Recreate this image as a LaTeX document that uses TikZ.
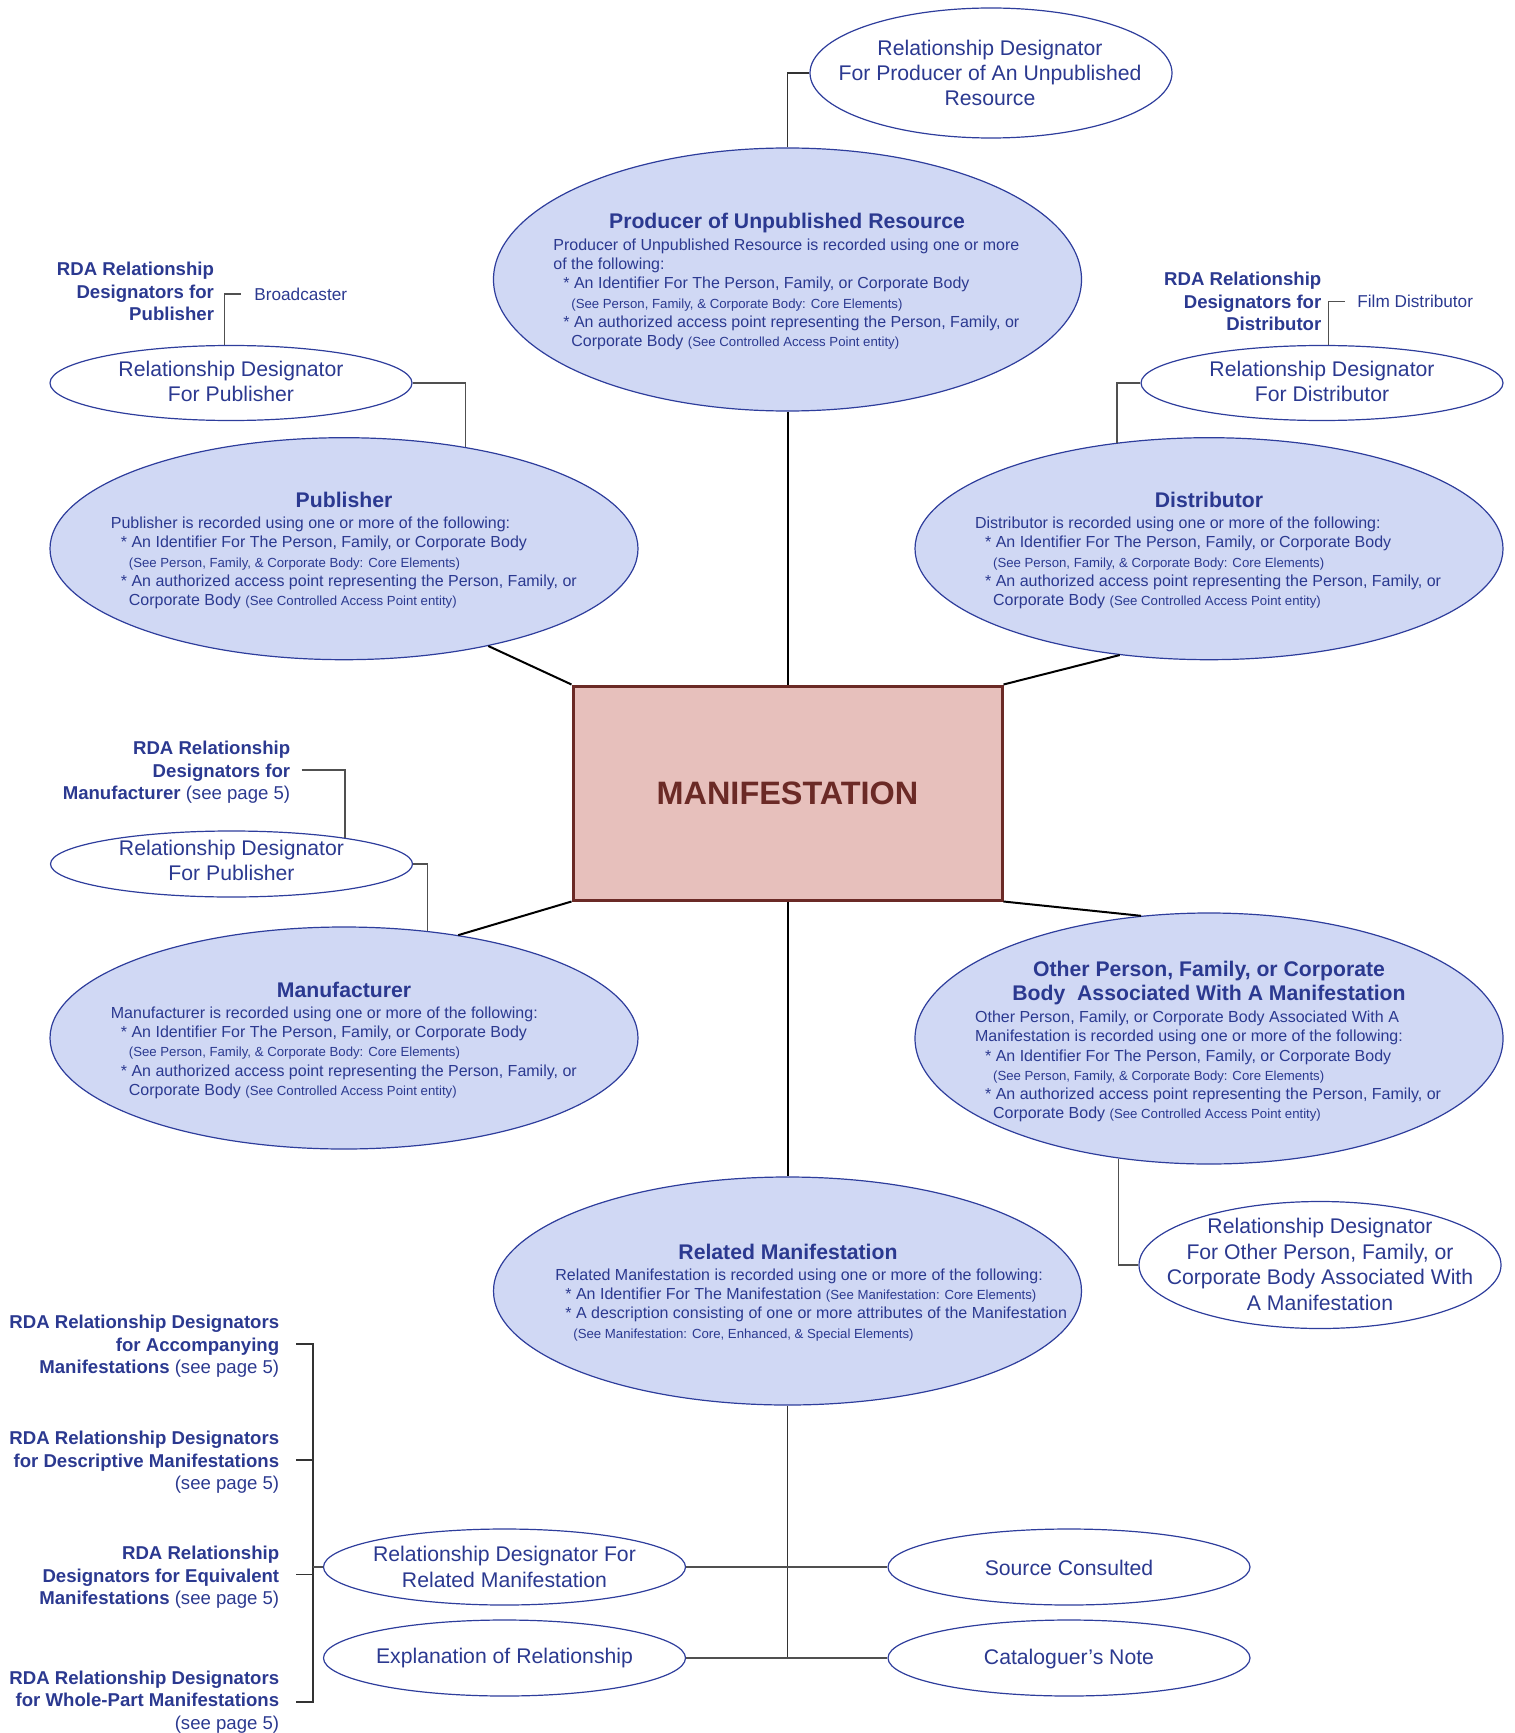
\documentclass[tikz,border=0pt]{standalone}
\usepackage{fontspec}
\setmainfont{Liberation Sans}
\usetikzlibrary{shapes.geometric,calc}
\definecolor{txtblue}{HTML}{2B3990}
\definecolor{edgeblue}{HTML}{2E3D9C}
\definecolor{ellfill}{HTML}{D0D8F4}
\definecolor{manfill}{HTML}{E7C0BC}
\definecolor{mandark}{HTML}{6B2A26}
\definecolor{conngray}{HTML}{505050}
\newcommand{\fsz}[2]{\fontsize{#1}{#2}\selectfont}
\newcommand{\smtxt}[1]{{\fontsize{6.6}{9.6}\selectfont #1}}
\newcommand{\indA}{\hspace*{5pt}}
\newcommand{\indB}{\hspace*{9pt}}
\begin{document}
\begin{tikzpicture}[x=0.5pt,y=-0.5pt,
  bigell/.style={ellipse, draw=edgeblue, fill=ellfill, line width=0.6pt, inner sep=0pt},
  rdell/.style={ellipse, draw=edgeblue, fill=white, line width=0.6pt, inner sep=0pt},
  rdtxt/.style={text=txtblue, font=\fsz{10.6}{12.7}, inner sep=0pt, align=center},
  ttl/.style={text=txtblue, font=\bfseries\fsz{10.6}{12.2}, inner sep=0pt, align=center},
  body/.style={text=txtblue, font=\fsz{8}{9.6}, inner sep=0pt, align=left, anchor=north west},
  rdalbl/.style={text=txtblue, font=\bfseries\fsz{9.3}{11.2}, inner sep=0pt, align=right, anchor=east},
  side/.style={text=txtblue, font=\fsz{8.6}{10}, inner sep=0pt, anchor=west},
  spoke/.style={black, line width=1pt},
  conn/.style={conngray, line width=0.7pt},
  darkconn/.style={black!80, line width=0.7pt},
]
\useasboundingbox (0,0) rectangle (1514,1733);

% ---- big ellipses
\node[bigell, minimum width=294pt, minimum height=131.5pt] (prod) at (787.5,279.5) {};
\node[bigell, minimum width=294pt, minimum height=111pt] (pub) at (344,548.7) {};
\node[bigell, minimum width=294pt, minimum height=111pt] (dist) at (1209,548.7) {};
\node[bigell, minimum width=294pt, minimum height=111pt] (manu) at (344,1038) {};
\node[bigell, minimum width=294pt, minimum height=125.5pt] (oth) at (1209,1038.5) {};
\node[bigell, minimum width=294pt, minimum height=114pt] (rel) at (787.5,1291) {};

% ---- relationship designator ellipses
\node[rdell, minimum width=181pt, minimum height=65pt] (rdprod) at (991,73) {};
\node[rdell, minimum width=181pt, minimum height=37.5pt] (rdpub) at (231,383) {};
\node[rdell, minimum width=181pt, minimum height=37.5pt] (rddist) at (1322,383) {};
\node[rdell, minimum width=181pt, minimum height=33pt] (rdman) at (231.5,864) {};
\node[rdell, minimum width=181pt, minimum height=63.5pt] (rdoth) at (1320,1265) {};
\node[rdell, minimum width=181pt, minimum height=38pt] (rdrel) at (504.5,1567) {};
\node[rdell, minimum width=181pt, minimum height=38pt] (expl) at (504.5,1658) {};
\node[rdell, minimum width=181pt, minimum height=38pt] (src) at (1069,1567) {};
\node[rdell, minimum width=181pt, minimum height=38pt] (cat) at (1069,1658) {};

% ---- central box
\node[draw=mandark, fill=manfill, line width=1.5pt, minimum width=214.5pt, minimum height=107pt,
      inner sep=0pt, text=mandark, font=\bfseries\fsz{16.2}{19}] (man) at (787.5,793) {MANIFESTATION};

% ---- texts in ellipses
\node[rdtxt] (rdprodT) at (990,73) {Relationship Designator\\For Producer of An Unpublished\\Resource};
\node[rdtxt] (rdpubT) at (231,381.5) {Relationship Designator\\For Publisher};
\node[rdtxt] (rddistT) at (1322,381.5) {Relationship Designator\\For Distributor};
\node[rdtxt] (rdmanT) at (231.5,860.5) {Relationship Designator\\For Publisher};
\node[rdtxt] (rdothT) at (1320,1264.5) {Relationship Designator\\For Other Person, Family, or\\Corporate Body Associated With\\A Manifestation};
\node[rdtxt] (rdrelT) at (504.5,1567) {Relationship Designator For\\Related Manifestation};
\node[rdtxt] (explT) at (504.5,1658) {Explanation of Relationship};
\node[rdtxt] (srcT) at (1069,1567.5) {Source Consulted};
\node[rdtxt] (catT) at (1069,1658.5) {Cataloguer’s Note};

\node[ttl] (prodH) at (787,223.2) {Producer of Unpublished Resource};
\node[ttl] (pubH) at (344,499.5) {Publisher};
\node[ttl] (distH) at (1209,499.5) {Distributor};
\node[ttl] (manuH) at (344,989.5) {Manufacturer};
\node[ttl] (othH) at (1209,983.3) {Other Person, Family, or Corporate\\Body\ \ Associated With A Manifestation};
\node[ttl] (relH) at (788,1252) {Related Manifestation};

\node[body] (prodB) at (553,238.5) {Producer of Unpublished Resource is recorded using one or more\\
of the following:\\
\indA* An Identifier For The Person, Family, or Corporate Body\\
\indB\smtxt{(See Person, Family, \& Corporate Body: Core Elements)}\\
\indA* An authorized access point representing the Person, Family, or\\
\indB Corporate Body \smtxt{(See Controlled Access Point entity)}};

\node[body] (pubB) at (110.5,516.7) {Publisher is recorded using one or more of the following:\\
\indA* An Identifier For The Person, Family, or Corporate Body\\
\indB\smtxt{(See Person, Family, \& Corporate Body: Core Elements)}\\
\indA* An authorized access point representing the Person, Family, or\\
\indB Corporate Body \smtxt{(See Controlled Access Point entity)}};

\node[body] (distB) at (974.7,516.7) {Distributor is recorded using one or more of the following:\\
\indA* An Identifier For The Person, Family, or Corporate Body\\
\indB\smtxt{(See Person, Family, \& Corporate Body: Core Elements)}\\
\indA* An authorized access point representing the Person, Family, or\\
\indB Corporate Body \smtxt{(See Controlled Access Point entity)}};

\node[body] (manuB) at (110.5,1006.5) {Manufacturer is recorded using one or more of the following:\\
\indA* An Identifier For The Person, Family, or Corporate Body\\
\indB\smtxt{(See Person, Family, \& Corporate Body: Core Elements)}\\
\indA* An authorized access point representing the Person, Family, or\\
\indB Corporate Body \smtxt{(See Controlled Access Point entity)}};

\node[body] (othB) at (974.7,1010.6) {Other Person, Family, or Corporate Body Associated With A\\
Manifestation is recorded using one or more of the following:\\
\indA* An Identifier For The Person, Family, or Corporate Body\\
\indB\smtxt{(See Person, Family, \& Corporate Body: Core Elements)}\\
\indA* An authorized access point representing the Person, Family, or\\
\indB Corporate Body \smtxt{(See Controlled Access Point entity)}};

\node[body] (relB) at (555,1268.5) {Related Manifestation is recorded using one or more of the following:\\
\indA* An Identifier For The Manifestation \smtxt{(See Manifestation: Core Elements)}\\
\indA* A description consisting of one or more attributes of the Manifestation\\
\indB\smtxt{(See Manifestation: Core, Enhanced, \& Special Elements)}};

% ---- side labels
\node[rdalbl] (publbl) at (214.4,291.7) {RDA Relationship\\Designators for\\Publisher};
\node[rdalbl] (distlbl) at (1321.7,301.7) {RDA Relationship\\Designators for\\Distributor};
\node[rdalbl] (manlbl) at (290.6,772.5) {RDA Relationship\\Designators for\\Manufacturer {\mdseries(see page 5)}};
\node[side] (bc) at (254,294) {Broadcaster};
\node[side] (fd) at (1357,301.7) {Film Distributor};

\node[rdalbl] (lbA) at (279.6,1346.3) {RDA Relationship Designators\\for Accompanying\\Manifestations {\mdseries(see page 5)}};
\node[rdalbl] (lbD) at (279.6,1462.3) {RDA Relationship Designators\\for Descriptive Manifestations\\{\mdseries(see page 5)}};
\node[rdalbl] (lbE) at (279.6,1577.2) {RDA Relationship\\Designators for Equivalent\\Manifestations {\mdseries(see page 5)}};
\node[rdalbl] (lbW) at (279.6,1702) {RDA Relationship Designators\\for Whole-Part Manifestations\\{\mdseries(see page 5)}};

% ---- main spokes
\draw[spoke] (prod.south) -- (man.north);
\draw[spoke] (man.north west) -- (pub.-34.8);
\draw[spoke] (man.north east) -- (dist.-130.6);
\draw[spoke] (man.south west) -- (manu.42.3);
\draw[spoke] (man.south east) -- (oth.119.9);
\draw[spoke] (man.south) -- (rel.north);

% ---- secondary connectors
\draw[darkconn] (rdprod.west) -| (prod.north);
\draw[conn] (rdpub.east) -| (pub.40.2);
\draw[conn] (rddist.west) -| (dist.131.1);
\draw[conn] (rdman.east) -| (manu.52.6);
\draw[conn] (oth.-127.5) |- (rdoth.west);
\draw[conn] (rdpub.100.1) |- ($(bc.west)+(-13,0)$);
\draw[conn] (rddist.80.5) |- ($(fd.west)+(-12,0)$);
\draw[conn] ($(manlbl.east)+(11,-2.5)$) -| (rdman.13.5);

\draw[darkconn] (rel.south) -- (rel.south |- expl.east);
\draw[conn] (rdrel.east) -- (src.west);
\draw[conn] (expl.east) -- (cat.west);

\coordinate (brk) at ($(lbA.east)+(33.4,-2.5)$);
\draw[darkconn] ($(lbA.east)+(16.4,-2.5)$) -- (brk) -- (brk |- lbW.east) -- ($(lbW.east)+(16.4,0)$);
\draw[darkconn] ($(lbD.east)+(16.4,-2.5)$) -- ($(brk |- lbD.east)+(0,-2.5)$);
\draw[darkconn] ($(lbE.east)+(16.4,-2.5)$) -- ($(brk |- lbE.east)+(0,-2.5)$);
\draw[conn] (rdrel.west) -- (brk |- rdrel.west);
\end{tikzpicture}
\end{document}
